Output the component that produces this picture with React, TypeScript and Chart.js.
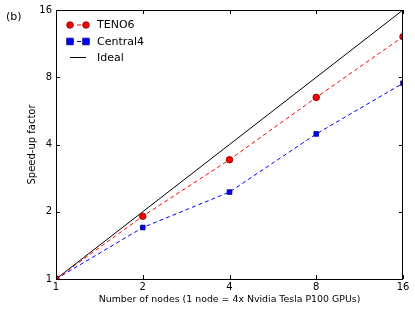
import React, { useEffect, useRef } from "react";
import { Chart, registerables } from "chart.js";

Chart.register(...registerables);

const nodes = [1, 2, 4, 8, 16];
const teno6 = [1, 1.91, 3.42, 6.5, 12.15];
const central4 = [1, 1.7, 2.45, 4.46, 7.52];
const ideal = [1, 2, 4, 8, 16];
const tickValues = [1, 2, 4, 8, 16];
const xTitle = "Number of nodes (1 node = 4x Nvidia Tesla P100 GPUs)";
const yTitle = "Speed-up factor";
const panelLabel = "(b)";

const FONT = "'DejaVu Sans', sans-serif";

const decorPlugin = {
  id: "decor",
  afterDatasetsDraw(chart: any) {
    const { ctx, chartArea, scales } = chart;
    const { left, right, top, bottom } = chartArea;
    ctx.save();
    // inward ticks on all sides
    ctx.strokeStyle = "#000";
    ctx.lineWidth = 1;
    const tl = 4;
    tickValues.forEach((v) => {
      const x = Math.round(scales.x.getPixelForValue(v)) + 0.5;
      ctx.beginPath();
      ctx.moveTo(x, bottom);
      ctx.lineTo(x, bottom - tl);
      ctx.moveTo(x, top);
      ctx.lineTo(x, top + tl);
      ctx.stroke();
      const y = Math.round(scales.y.getPixelForValue(v)) + 0.5;
      ctx.beginPath();
      ctx.moveTo(left, y);
      ctx.lineTo(left + tl, y);
      ctx.moveTo(right, y);
      ctx.lineTo(right - tl, y);
      ctx.stroke();
    });
    // frame
    ctx.strokeStyle = "#000";
    ctx.lineWidth = 1;
    ctx.strokeRect(Math.round(left) + 0.5, Math.round(top) + 0.5, Math.round(right - left) - 1, Math.round(bottom - top));

    // legend
    ctx.font = `11px ${FONT}`;
    ctx.textBaseline = "middle";
    ctx.textAlign = "left";
    const rows = [25, 41.5, 57.5];
    chart.data.datasets.forEach((ds: any, i: number) => {
      const y = rows[i];
      const x0 = 70;
      const x1 = 86;
      ctx.strokeStyle = ds.borderColor;
      ctx.lineWidth = 1;
      ctx.setLineDash(ds.borderDash || []);
      ctx.beginPath();
      ctx.moveTo(x0, y);
      ctx.lineTo(x1, y);
      ctx.stroke();
      ctx.setLineDash([]);
      if (ds.pointRadius > 0) {
        [x0, x1].forEach((px) => {
          ctx.fillStyle = ds.pointBackgroundColor;
          ctx.strokeStyle = ds.pointBorderColor;
          ctx.lineWidth = 0.8;
          ctx.beginPath();
          if (ds.pointStyle === "rect") {
            const s = ds.pointRadius;
            ctx.rect(px - s, y - s, 2 * s, 2 * s);
          } else {
            ctx.arc(px, y, ds.pointRadius, 0, Math.PI * 2);
          }
          ctx.fill();
          ctx.stroke();
        });
      }
      ctx.fillStyle = "#000";
      ctx.fillText(ds.label, 97, y + 0.5);
    });

    // titles
    ctx.fillStyle = "#000";
    ctx.font = `9.4px ${FONT}`;
    ctx.textAlign = "center";
    ctx.textBaseline = "middle";
    ctx.fillText(xTitle, (left + right) / 2, 300);
    ctx.font = `10px ${FONT}`;
    ctx.save();
    ctx.translate(32, (top + bottom) / 2);
    ctx.rotate(-Math.PI / 2);
    ctx.fillText(yTitle, 0, 0);
    ctx.restore();
    ctx.font = `11px ${FONT}`;
    ctx.textAlign = "left";
    ctx.fillText(panelLabel, 6, 17);
    ctx.restore();
  },
};

export default function App() {
  const ref = useRef<HTMLCanvasElement>(null);
  useEffect(() => {
    document.body.style.margin = "0";
    const canvas = ref.current!;
    const chart = new Chart(canvas, {
      type: "scatter",
      data: {
        datasets: [
          {
            label: "TENO6",
            data: nodes.map((n, i) => ({ x: n, y: teno6[i] })),
            showLine: true,
            borderColor: "#ff0000",
            borderWidth: 1,
            borderDash: [4, 3],
            pointStyle: "circle",
            pointRadius: 3.3,
            pointBackgroundColor: "#ff0000",
            pointBorderColor: "#7a0000",
            pointBorderWidth: 0.8,
            clip: 0,
          } as any,
          {
            label: "Central4",
            data: nodes.map((n, i) => ({ x: n, y: central4[i] })),
            showLine: true,
            borderColor: "#0000ff",
            borderWidth: 1,
            borderDash: [4, 3],
            pointStyle: "rect",
            pointRadius: 3.3,
            pointBackgroundColor: "#0000ff",
            pointBorderColor: "#00007a",
            pointBorderWidth: 0.8,
            clip: 0,
          } as any,
          {
            label: "Ideal",
            data: nodes.map((n, i) => ({ x: n, y: ideal[i] })),
            showLine: true,
            borderColor: "#000000",
            borderWidth: 1,
            pointRadius: 0,
            clip: 0,
          } as any,
        ],
      },
      options: {
        animation: false,
        responsive: false,
        layout: { padding: { left: 0, right: 12, top: 10, bottom: 0 } },
        plugins: { legend: { display: false }, tooltip: { enabled: false } },
        scales: {
          x: {
            type: "logarithmic",
            min: 1,
            max: 16,
            afterBuildTicks: (s: any) => {
              s.ticks = tickValues.map((v) => ({ value: v }));
            },
            afterFit: (s: any) => {
              s.height = 31;
            },
            ticks: {
              callback: (v: any) => String(v),
              color: "#000",
              font: { family: FONT, size: 10 },
              padding: 2,
              maxRotation: 0,
              autoSkip: false,
            },
            grid: { display: false, drawTicks: false },
            border: { display: false },
          },
          y: {
            type: "logarithmic",
            min: 1,
            max: 16,
            afterBuildTicks: (s: any) => {
              s.ticks = tickValues.map((v) => ({ value: v }));
            },
            afterFit: (s: any) => {
              s.width = 56;
            },
            ticks: {
              callback: (v: any) => String(v),
              color: "#000",
              font: { family: FONT, size: 10 },
              padding: 4,
              autoSkip: false,
            },
            grid: { display: false, drawTicks: false },
            border: { display: false },
          },
        },
      },
      plugins: [decorPlugin],
    });
    return () => chart.destroy();
  }, []);
  return <canvas ref={ref} width={415} height={310} style={{ display: "block" }} />;
}
